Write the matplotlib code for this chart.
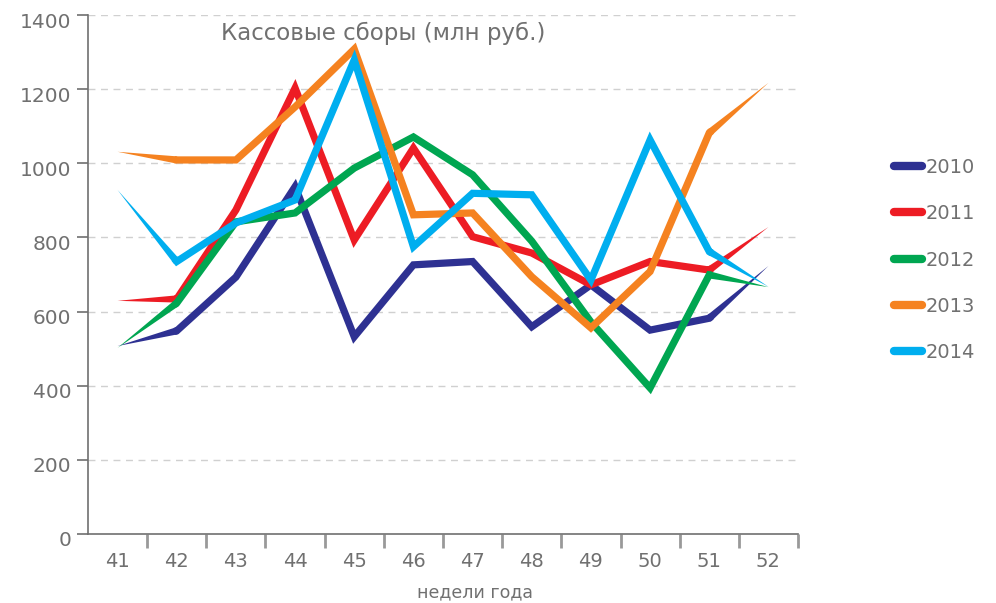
import matplotlib
matplotlib.use("Agg")
import matplotlib.pyplot as plt
import matplotlib.transforms as mtransforms
from matplotlib.patches import Polygon
from matplotlib.lines import Line2D
import numpy as np

weeks = [41, 42, 43, 44, 45, 46, 47, 48, 49, 50, 51, 52]
years = ["2010", "2011", "2012", "2013", "2014"]
v2010 = [507, 548, 693, 937, 532, 726, 735, 559, 672, 550, 582, 723]
v2011 = [629, 634, 874, 1203, 793, 1041, 802, 758, 672, 735, 712, 828]
v2012 = [502, 623, 842, 866, 987, 1071, 969, 790, 572, 394, 699, 666]
v2013 = [1031, 1009, 1009, 1152, 1308, 861, 866, 694, 556, 708, 1082, 1217]
v2014 = [928, 735, 839, 901, 1279, 775, 919, 915, 685, 1063, 762, 667]
series = [v2010, v2011, v2012, v2013, v2014]
colors = ["#2E3192", "#ED1C24", "#00A651", "#F58220", "#00AEEF"]
yticks = [0, 200, 400, 600, 800, 1000, 1200, 1400]
title = "Кассовые сборы (млн руб.)"
xlabel = "недели года"

gray = "#707070"
W, H = 996, 603
fig = plt.figure(figsize=(W / 100, H / 100), dpi=100)
ax = fig.add_axes([88 / W, (H - 534) / H, (798 - 88) / W, (534 - 15) / H])
ax.set_xlim(40.5, 52.5)
ax.set_ylim(0, 1400)

for s in ["top", "right"]:
    ax.spines[s].set_visible(False)
for s in ["left", "bottom"]:
    ax.spines[s].set_color(gray)
    ax.spines[s].set_linewidth(1.2)

ax.set_yticks(yticks)
ax.set_yticklabels([str(t) for t in yticks])
ax.tick_params(axis="y", length=8, width=1.2, color=gray, labelcolor=gray,
               labelsize=14.5, pad=4)
offset = mtransforms.ScaledTranslation(0, -5 / 100, fig.dpi_scale_trans)
for lab in ax.get_yticklabels():
    lab.set_transform(lab.get_transform() + offset)

ax.set_xticks(weeks)
ax.set_xticklabels([str(w) for w in weeks])
ax.set_xticks([w + 0.5 for w in weeks], minor=True)
ax.tick_params(axis="x", which="major", length=0, labelcolor=gray,
               labelsize=14, pad=13)
ax.tick_params(axis="x", which="minor", length=10, width=2, color="#999999")

for t in yticks[1:]:
    ax.axhline(t, color="#d0d0d0", lw=1, ls=(0, (5, 4)), zorder=0)

fig.text(383 / W, 1 - 33 / H, title, color=gray, fontsize=16.5,
         ha="center", va="center")
fig.text(475 / W, 1 - 592 / H, xlabel, color=gray, fontsize=12.5,
         ha="center", va="center")

lw_pt = 5.2
lw_px = lw_pt * 100 / 72
fig.canvas.draw()
to_disp = ax.transData
to_data = ax.transData.inverted()


def taper(p_thin, p_full, color, z):
    a = np.array(to_disp.transform(p_thin))
    b = np.array(to_disp.transform(p_full))
    d = b - a
    n = np.array([-d[1], d[0]]) / np.hypot(*d)
    hw = lw_px / 2
    pts = np.array([a, b + n * hw, b - n * hw])
    poly = Polygon(to_data.transform(pts), closed=True, facecolor=color,
                   edgecolor="none", zorder=z)
    ax.add_patch(poly)


def stub(p_from, p_to, frac=0.04):
    return (p_from[0] + (p_to[0] - p_from[0]) * frac,
            p_from[1] + (p_to[1] - p_from[1]) * frac)


for i, (vals, c) in enumerate(zip(series, colors)):
    z = 3 + i
    s0 = stub((weeks[1], vals[1]), (weeks[0], vals[0]))
    s1 = stub((weeks[-2], vals[-2]), (weeks[-1], vals[-1]))
    xs = [s0[0]] + weeks[1:-1] + [s1[0]]
    ys = [s0[1]] + vals[1:-1] + [s1[1]]
    ax.plot(xs, ys, color=c, lw=lw_pt, solid_joinstyle="miter",
            solid_capstyle="butt", zorder=z)
    taper((weeks[0], vals[0]), (weeks[1], vals[1]), c, z)
    taper((weeks[-1], vals[-1]), (weeks[-2], vals[-2]), c, z)

handles = [Line2D([0], [0], color=c, lw=6, solid_capstyle="round") for c in colors]
leg = fig.legend(handles, years, loc="center left",
                 bbox_to_anchor=(876 / W, 1 - 260 / H), frameon=False,
                 fontsize=14, labelcolor=gray, handlelength=1.45,
                 handletextpad=0.2, labelspacing=1.4)

fig.savefig("out.png", dpi=100)
